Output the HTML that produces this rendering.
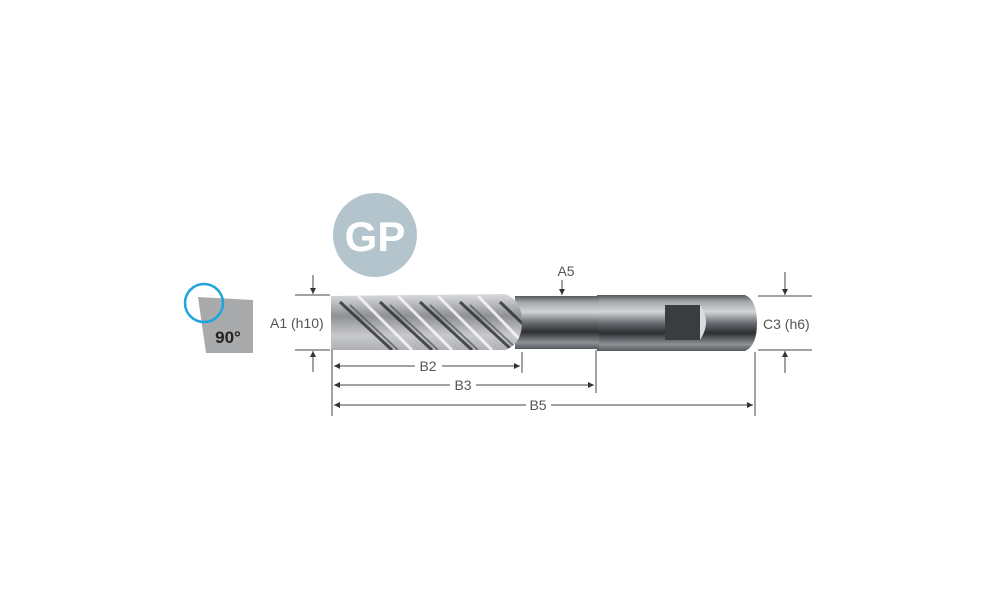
<!DOCTYPE html>
<html><head><meta charset="utf-8"><style>
html,body{margin:0;padding:0;background:#fff;}
svg{display:block;}
text{font-family:"Liberation Sans",sans-serif;}
</style></head><body>
<svg width="1000" height="611" viewBox="0 0 1000 611" xmlns="http://www.w3.org/2000/svg">
<defs>
<linearGradient id="sh" x1="0" y1="0" x2="0" y2="1">
<stop offset="0" stop-color="#55585c"/><stop offset="0.12" stop-color="#a4a7ab"/>
<stop offset="0.3" stop-color="#d2d4d7"/><stop offset="0.5" stop-color="#6a6d72"/>
<stop offset="0.68" stop-color="#2c2e32"/><stop offset="0.88" stop-color="#8e9196"/>
<stop offset="1" stop-color="#55585c"/></linearGradient>
<linearGradient id="fl" x1="0" y1="0" x2="0" y2="1">
<stop offset="0" stop-color="#e8e9eb"/><stop offset="0.4" stop-color="#8f9195"/>
<stop offset="0.7" stop-color="#c8c9cc"/><stop offset="1" stop-color="#a5a7ab"/></linearGradient>
<clipPath id="fc"><path d="M331,296 L505,294 Q522,300 522,322 Q522,344 505,350 L331,350 Z"/></clipPath>
<marker id="ar" markerWidth="6" markerHeight="6" refX="6" refY="3" orient="auto"><path d="M0,0 L6,3 L0,6 Z" fill="#333"/></marker>
</defs>
<circle cx="375" cy="235" r="42" fill="#b3c4cd"/>
<text x="375" y="251" text-anchor="middle" font-size="42" font-weight="bold" fill="#fff">GP</text>
<polygon points="198,297 253,300 253,353 206,353" fill="#a9aaac"/>
<circle cx="204" cy="303" r="19" fill="none" stroke="#1ea5dd" stroke-width="2.5"/>
<text x="228" y="343" text-anchor="middle" font-size="17" font-weight="bold" fill="#222">90°</text>
<path d="M597,295 L745,295 Q757,300 757,323 Q757,346 745,351 L597,351 Z" fill="url(#sh)"/>
<rect x="665" y="305" width="35" height="35" fill="#3a3c40"/>
<path d="M700,305 Q712,322 700,340 Z" fill="#d8dde4"/>
<rect x="515" y="296" width="84" height="53" fill="url(#sh)"/>
<g clip-path="url(#fc)">
<rect x="330" y="290" width="195" height="65" fill="url(#fl)"/>
<g stroke="#2a2c30" stroke-width="3" opacity="0.8">
<line x1="340" y1="302" x2="392" y2="350"/><line x1="380" y1="302" x2="432" y2="350"/>
<line x1="420" y1="302" x2="472" y2="350"/><line x1="460" y1="302" x2="512" y2="350"/>
<line x1="500" y1="302" x2="545" y2="345"/></g>
<g stroke="#55585c" stroke-width="2" opacity="0.7">
<line x1="350" y1="305" x2="398" y2="350"/><line x1="390" y1="305" x2="438" y2="350"/>
<line x1="430" y1="305" x2="478" y2="350"/><line x1="470" y1="305" x2="518" y2="350"/></g>
<g stroke="#f4f4f5" stroke-width="3" opacity="0.9">
<line x1="358" y1="296" x2="412" y2="350"/><line x1="398" y1="296" x2="452" y2="350"/>
<line x1="438" y1="296" x2="492" y2="350"/><line x1="478" y1="296" x2="530" y2="350"/></g>
</g>
<g stroke="#444" stroke-width="1" fill="none">
<line x1="295" y1="295" x2="330" y2="295"/><line x1="295" y1="350" x2="330" y2="350"/>
<line x1="313" y1="275" x2="313" y2="294" marker-end="url(#ar)"/>
<line x1="313" y1="372" x2="313" y2="351" marker-end="url(#ar)"/>
<line x1="332" y1="350" x2="332" y2="416"/>
<line x1="522" y1="352" x2="522" y2="373"/>
<line x1="596" y1="350" x2="596" y2="393"/>
<line x1="755" y1="352" x2="755" y2="416"/>
<line x1="415" y1="366" x2="334" y2="366" marker-end="url(#ar)"/>
<line x1="442" y1="366" x2="520" y2="366" marker-end="url(#ar)"/>
<line x1="450" y1="385" x2="334" y2="385" marker-end="url(#ar)"/>
<line x1="476" y1="385" x2="594" y2="385" marker-end="url(#ar)"/>
<line x1="526" y1="405" x2="334" y2="405" marker-end="url(#ar)"/>
<line x1="551" y1="405" x2="753" y2="405" marker-end="url(#ar)"/>
<line x1="562" y1="280" x2="562" y2="295" marker-end="url(#ar)"/>
<line x1="758" y1="296" x2="812" y2="296"/><line x1="758" y1="350" x2="812" y2="350"/>
<line x1="785" y1="272" x2="785" y2="295" marker-end="url(#ar)"/>
<line x1="785" y1="373" x2="785" y2="351" marker-end="url(#ar)"/>
</g>
<g font-size="14" fill="#555">
<text x="270" y="328">A1 (h10)</text>
<text x="428" y="371" text-anchor="middle">B2</text>
<text x="463" y="390" text-anchor="middle">B3</text>
<text x="538" y="410" text-anchor="middle">B5</text>
<text x="566" y="276" text-anchor="middle">A5</text>
<text x="763" y="329">C3 (h6)</text>
</g>
</svg>
</body></html>
